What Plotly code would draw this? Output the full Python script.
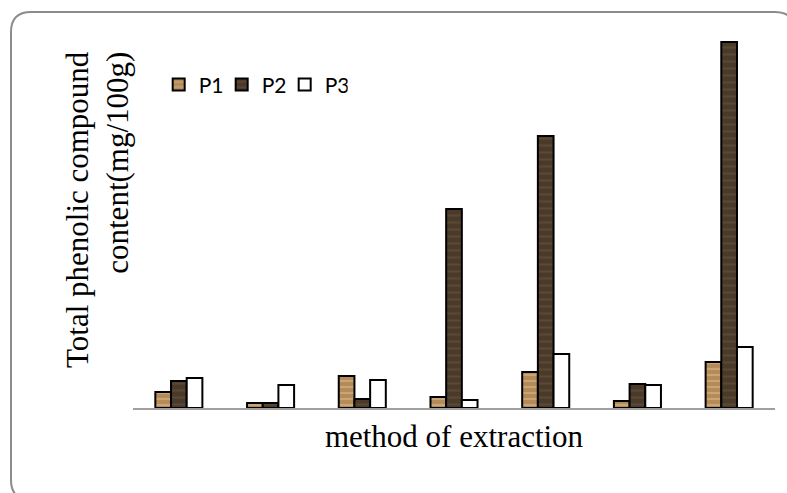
import plotly.graph_objects as go

# ---- data (arbitrary units, no axis ticks shown) ----
methods = ["M1", "M2", "M3", "M4", "M5", "M6", "M7"]
p1_values = [16, 5, 32, 11, 36, 7, 46]
p2_values = [27, 5, 9, 199, 272, 24, 366]
p3_values = [30, 23, 28, 8, 54, 23, 61]
series_names = ["P1", "P2", "P3"]

W, H = 787, 493
L, R, T, B = 133, 12, 30, 85
plot_w = W - L - R
plot_h = H - T - B
y_top = plot_h  # range so that 1 unit ~ 1 px


def px_to_paper(px, py):
    return (px - L) / plot_w, (H - B - py) / plot_h


def rounded_rect_path(x0, y0, x1, y1, r):
    def P(px, py):
        x, y = px_to_paper(px, py)
        return f"{x:.5f},{y:.5f}"
    d = f"M {P(x0 + r, y0)} L {P(x1 - r, y0)} Q {P(x1, y0)} {P(x1, y0 + r)} "
    d += f"L {P(x1, y1 - r)} Q {P(x1, y1)} {P(x1 - r, y1)} "
    d += f"L {P(x0 + r, y1)} Q {P(x0, y1)} {P(x0, y1 - r)} "
    d += f"L {P(x0, y0 + r)} Q {P(x0, y0)} {P(x0 + r, y0)} Z"
    return d


fig = go.Figure()
fig.add_trace(go.Bar(
    x=methods, y=p1_values, name=series_names[0],
    marker=dict(color="#bb9562", line=dict(color="#000000", width=2),
                pattern=dict(shape="-", fgcolor="#dcc090", bgcolor="#b38a58",
                             size=6, solidity=0.35))))
fig.add_trace(go.Bar(
    x=methods, y=p2_values, name=series_names[1],
    marker=dict(color="#4d3c2b", line=dict(color="#000000", width=2),
                pattern=dict(shape="-", fgcolor="#6a553e", bgcolor="#4a3a2a",
                             size=7, solidity=0.3))))
fig.add_trace(go.Bar(
    x=methods, y=p3_values, name=series_names[2],
    marker=dict(color="#ffffff", line=dict(color="#000000", width=2))))

fig.update_layout(
    width=W, height=H,
    margin=dict(l=L, r=R, t=T, b=B),
    paper_bgcolor="#ffffff", plot_bgcolor="#ffffff",
    barmode="group", bargap=0.487, bargroupgap=0,
    showlegend=True,
    legend=dict(orientation="h", x=0.04, y=0.855, xanchor="left", yanchor="middle",
                font=dict(family="Lato", size=21, color="#000000"),
                bgcolor="rgba(0,0,0,0)", itemwidth=30, tracegroupgap=0,
                entrywidth=18, entrywidthmode="pixels"),
    xaxis=dict(showticklabels=False, ticks="", showgrid=False, zeroline=False,
               showline=True, linecolor="#a0a0a0", linewidth=2,
               title=dict(text="method of extraction",
                          font=dict(family="Liberation Serif", size=31, color="#000000"),
                          standoff=16)),
    yaxis=dict(range=[0, y_top], showticklabels=False, ticks="", showgrid=False,
               zeroline=False, showline=False),
    font=dict(family="Liberation Serif"),
)

ax, ay = px_to_paper(97, 210)
fig.add_annotation(
    text="Total phenolic compound<br>content(mg/100g)",
    xref="paper", yref="paper", x=ax, y=ay, xanchor="center", yanchor="middle",
    textangle=-90, align="right", showarrow=False,
    font=dict(family="Liberation Serif", size=31, color="#000000"))

fig.add_shape(type="path", xref="paper", yref="paper",
              path=rounded_rect_path(11, 12, 795, 500, 20),
              line=dict(color="#8c8c8c", width=2), fillcolor="rgba(0,0,0,0)",
              layer="below")

fig.write_html("out.html")
